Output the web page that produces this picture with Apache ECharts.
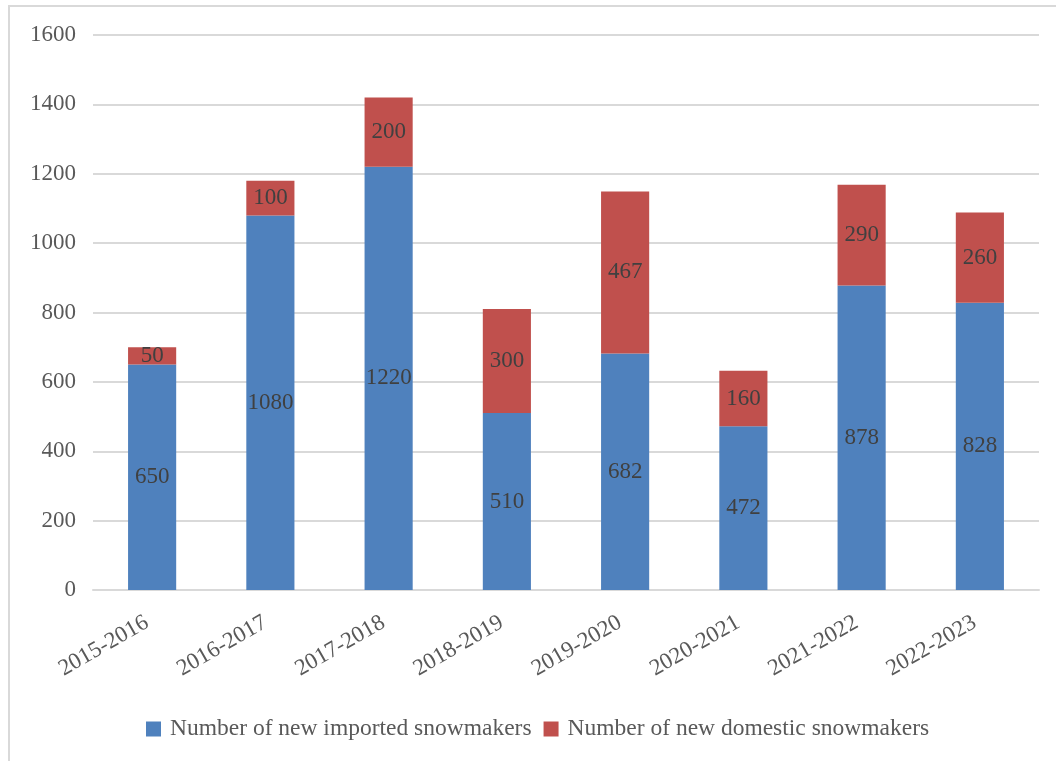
<!DOCTYPE html>
<html>
<head>
<meta charset="utf-8">
<script src="https://cdn.jsdelivr.net/npm/echarts@6/dist/echarts.min.js"></script>
<style>
  html, body { margin: 0; padding: 0; background: #fff; }
  #chart { width: 1056px; height: 761px; }
</style>
</head>
<body>
<div id="chart"></div>
<script>
// Snowmaker additions per ski season
const seasons = ['2015-2016', '2016-2017', '2017-2018', '2018-2019', '2019-2020', '2020-2021', '2021-2022', '2022-2023'];
const importedCounts = [650, 1080, 1220, 510, 682, 472, 878, 828];
const domesticCounts = [50, 100, 200, 300, 467, 160, 290, 260];
const seriesNames = ['Number of new imported snowmakers', 'Number of new domestic snowmakers'];

const FONT = '"Liberation Serif", "Times New Roman", serif';

const chart = echarts.init(document.getElementById('chart'));

const labelStyle = {
  show: true,
  position: 'inside',
  color: '#404040',
  fontFamily: FONT,
  fontSize: 23
};

chart.setOption({
  animation: false,
  textStyle: { fontFamily: FONT },
  graphic: [{
    type: 'rect',
    shape: { x: 9, y: 6, width: 1060, height: 770 },
    style: { fill: 'none', stroke: '#d9d9d9', lineWidth: 2 },
    silent: true
  }],
  grid: { left: 93, right: 17, top: 35, bottom: 171 },
  legend: {
    top: 717,
    left: 146,
    itemWidth: 15,
    itemHeight: 15,
    itemGap: 12,
    padding: 0,
    icon: 'rect',
    textStyle: { fontFamily: FONT, fontSize: 23.5, color: '#595959', padding: [0, 0, 0, 4] },
    data: seriesNames
  },
  xAxis: {
    type: 'category',
    data: seasons,
    axisLine: { lineStyle: { color: '#d9d9d9', width: 2 } },
    axisTick: { show: false },
    axisLabel: {
      rotate: 30,
      interval: 0,
      margin: 28,
      padding: [0, 6, 0, 0],
      color: '#595959',
      fontFamily: FONT,
      fontSize: 23
    }
  },
  yAxis: {
    type: 'value',
    min: 0,
    max: 1600,
    interval: 200,
    axisLine: { show: false },
    axisTick: { show: false },
    splitLine: { lineStyle: { color: '#d9d9d9', width: 2 } },
    axisLabel: {
      margin: 17,
      color: '#595959',
      fontFamily: FONT,
      fontSize: 23,
      formatter: (v) => String(v)
    }
  },
  series: [
    {
      name: seriesNames[0],
      type: 'bar',
      stack: 'total',
      barWidth: '40.7%',
      itemStyle: { color: '#4F81BD' },
      label: labelStyle,
      data: importedCounts
    },
    {
      name: seriesNames[1],
      type: 'bar',
      stack: 'total',
      barWidth: '40.7%',
      itemStyle: { color: '#C0504D' },
      label: labelStyle,
      data: domesticCounts
    }
  ]
});
</script>
</body>
</html>
